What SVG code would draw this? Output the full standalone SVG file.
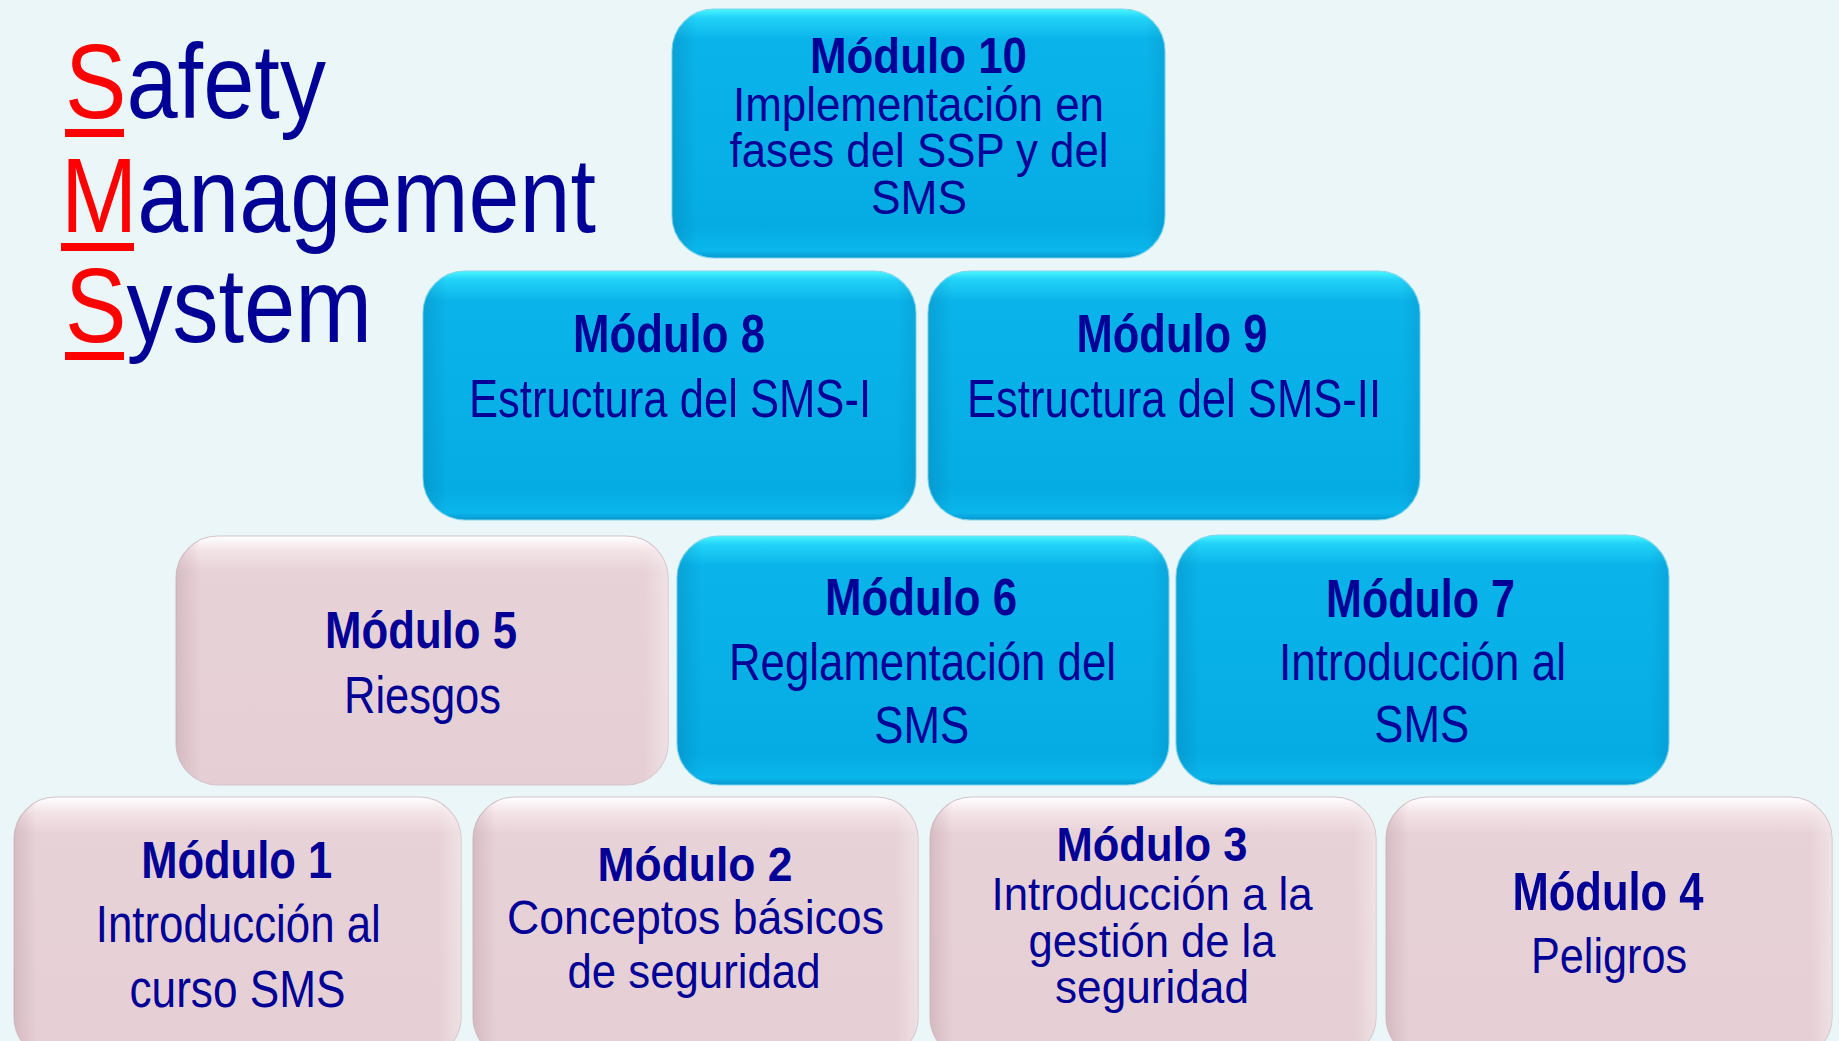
<svg xmlns="http://www.w3.org/2000/svg" width="1839" height="1041" viewBox="0 0 1839 1041">
<defs>
<linearGradient id="gBlue" x1="0" y1="0" x2="0" y2="1">
<stop offset="0" stop-color="#4AF6FF"/>
<stop offset="0.035" stop-color="#22D2F8"/>
<stop offset="0.12" stop-color="#0AB4EA"/>
<stop offset="0.88" stop-color="#05ACE4"/>
<stop offset="0.97" stop-color="#0AB6EC"/>
<stop offset="1" stop-color="#0798CE"/>
</linearGradient>
<linearGradient id="gPink" x1="0" y1="0" x2="0" y2="1">
<stop offset="0" stop-color="#FFFFFF"/>
<stop offset="0.06" stop-color="#F3E3E7"/>
<stop offset="0.14" stop-color="#E7D2D7"/>
<stop offset="1" stop-color="#E5CFD4"/>
</linearGradient>
<linearGradient id="gSideB" x1="0" y1="0" x2="1" y2="0">
<stop offset="0" stop-color="#00507A" stop-opacity="0.18"/>
<stop offset="0.05" stop-color="#00507A" stop-opacity="0"/>
<stop offset="0.96" stop-color="#00507A" stop-opacity="0"/>
<stop offset="1" stop-color="#00507A" stop-opacity="0.12"/>
</linearGradient>
<linearGradient id="gSideP" x1="0" y1="0" x2="1" y2="0">
<stop offset="0" stop-color="#9A6F7A" stop-opacity="0.22"/>
<stop offset="0.05" stop-color="#9A6F7A" stop-opacity="0"/>
<stop offset="0.95" stop-color="#FFFFFF" stop-opacity="0"/>
<stop offset="1" stop-color="#FFFFFF" stop-opacity="0.35"/>
</linearGradient>
</defs>
<style>
.bg{fill:#EAF6F8}
.blue{fill:url(#gBlue);stroke:#7FD6EE;stroke-width:1.2}
.pink{fill:url(#gPink);stroke:#D6C3C8;stroke-width:1.2}
.sb{fill:url(#gSideB)}
.sp{fill:url(#gSideP)}
text{font-family:"Liberation Sans",Arial,sans-serif;fill:#000096;text-anchor:middle}
.h{font-weight:bold}
.title{font-size:106px;text-anchor:start}
.red{fill:#FF0000}
.ul{fill:#FF0000}
</style>
<rect class="bg" x="0" y="0" width="1839" height="1041"/>

<g id="title">
<text class="title" x="65" y="118" textLength="261" lengthAdjust="spacingAndGlyphs"><tspan class="red">S</tspan>afety</text>
<rect class="ul" x="65" y="129" width="59" height="8"/>
<text class="title" x="61" y="232" textLength="535" lengthAdjust="spacingAndGlyphs"><tspan class="red">M</tspan>anagement</text>
<rect class="ul" x="61" y="243" width="73" height="8"/>
<text class="title" x="65" y="342" textLength="307" lengthAdjust="spacingAndGlyphs"><tspan class="red">S</tspan>ystem</text>
<rect class="ul" x="65" y="352" width="59" height="8"/>
</g>

<g id="connectors"></g>

<g id="m10">
<rect class="blue" x="672" y="9" width="493" height="249" rx="42"/>
<rect class="sb" x="672" y="9" width="493" height="249" rx="42"/>
<text class="h" x="918.5" y="73" font-size="50" textLength="217" lengthAdjust="spacingAndGlyphs">Módulo 10</text>
<text x="918.5" y="121" font-size="48" textLength="371" lengthAdjust="spacingAndGlyphs">Implementación en</text>
<text x="919" y="167" font-size="48" textLength="379" lengthAdjust="spacingAndGlyphs">fases del SSP y del</text>
<text x="919" y="214" font-size="48" textLength="96" lengthAdjust="spacingAndGlyphs">SMS</text>
</g>

<g id="m8">
<rect class="blue" x="423" y="271" width="493" height="249" rx="42"/>
<rect class="sb" x="423" y="271" width="493" height="249" rx="42"/>
<text class="h" x="669" y="352" font-size="54" textLength="192" lengthAdjust="spacingAndGlyphs">Módulo 8</text>
<text x="670" y="417" font-size="54" textLength="402" lengthAdjust="spacingAndGlyphs">Estructura del SMS-I</text>
</g>

<g id="m9">
<rect class="blue" x="928" y="271" width="492" height="249" rx="42"/>
<rect class="sb" x="928" y="271" width="492" height="249" rx="42"/>
<text class="h" x="1172" y="352" font-size="54" textLength="191" lengthAdjust="spacingAndGlyphs">Módulo 9</text>
<text x="1174" y="417" font-size="54" textLength="414" lengthAdjust="spacingAndGlyphs">Estructura del SMS-II</text>
</g>

<g id="m5">
<rect class="pink" x="176" y="536" width="492" height="249" rx="42"/>
<rect class="sp" x="176" y="536" width="492" height="249" rx="42"/>
<text class="h" x="421" y="648" font-size="51" textLength="192" lengthAdjust="spacingAndGlyphs">Módulo 5</text>
<text x="422.5" y="713" font-size="52" textLength="157" lengthAdjust="spacingAndGlyphs">Riesgos</text>
</g>

<g id="m6">
<rect class="blue" x="677" y="536" width="492" height="249" rx="42"/>
<rect class="sb" x="677" y="536" width="492" height="249" rx="42"/>
<text class="h" x="921" y="615" font-size="52" textLength="192" lengthAdjust="spacingAndGlyphs">Módulo 6</text>
<text x="922.5" y="680" font-size="51" textLength="387" lengthAdjust="spacingAndGlyphs">Reglamentación del</text>
<text x="921.7" y="743" font-size="51" textLength="95" lengthAdjust="spacingAndGlyphs">SMS</text>
</g>

<g id="m7">
<rect class="blue" x="1176" y="535" width="493" height="250" rx="42"/>
<rect class="sb" x="1176" y="535" width="493" height="250" rx="42"/>
<text class="h" x="1420.5" y="617" font-size="53" textLength="189" lengthAdjust="spacingAndGlyphs">Módulo 7</text>
<text x="1422.5" y="680" font-size="51" textLength="287" lengthAdjust="spacingAndGlyphs">Introducción al</text>
<text x="1421.7" y="742" font-size="51" textLength="95" lengthAdjust="spacingAndGlyphs">SMS</text>
</g>

<g id="m1">
<rect class="pink" x="14" y="797" width="447" height="262" rx="42"/>
<rect class="sp" x="14" y="797" width="447" height="262" rx="42"/>
<text class="h" x="236.7" y="878" font-size="51" textLength="191" lengthAdjust="spacingAndGlyphs">Módulo 1</text>
<text x="238.3" y="942" font-size="51" textLength="285" lengthAdjust="spacingAndGlyphs">Introducción al</text>
<text x="237.5" y="1007" font-size="51" textLength="216" lengthAdjust="spacingAndGlyphs">curso SMS</text>
</g>

<g id="m2">
<rect class="pink" x="473" y="797" width="445" height="262" rx="42"/>
<rect class="sp" x="473" y="797" width="445" height="262" rx="42"/>
<text class="h" x="695" y="881" font-size="49" textLength="195" lengthAdjust="spacingAndGlyphs">Módulo 2</text>
<text x="695.5" y="934" font-size="49" textLength="377" lengthAdjust="spacingAndGlyphs">Conceptos básicos</text>
<text x="694" y="988" font-size="49" textLength="253" lengthAdjust="spacingAndGlyphs">de seguridad</text>
</g>

<g id="m3">
<rect class="pink" x="930" y="797" width="446" height="262" rx="42"/>
<rect class="sp" x="930" y="797" width="446" height="262" rx="42"/>
<text class="h" x="1152" y="861" font-size="48" textLength="191" lengthAdjust="spacingAndGlyphs">Módulo 3</text>
<text x="1152" y="910" font-size="47" textLength="321" lengthAdjust="spacingAndGlyphs">Introducción a la</text>
<text x="1152" y="957" font-size="47" textLength="247" lengthAdjust="spacingAndGlyphs">gestión de la</text>
<text x="1152" y="1003" font-size="47" textLength="194" lengthAdjust="spacingAndGlyphs">seguridad</text>
</g>

<g id="m4">
<rect class="pink" x="1386" y="797" width="446" height="262" rx="42"/>
<rect class="sp" x="1386" y="797" width="446" height="262" rx="42"/>
<text class="h" x="1608" y="910" font-size="53" textLength="191" lengthAdjust="spacingAndGlyphs">Módulo 4</text>
<text x="1609" y="973" font-size="50" textLength="156" lengthAdjust="spacingAndGlyphs">Peligros</text>
</g>
</svg>
